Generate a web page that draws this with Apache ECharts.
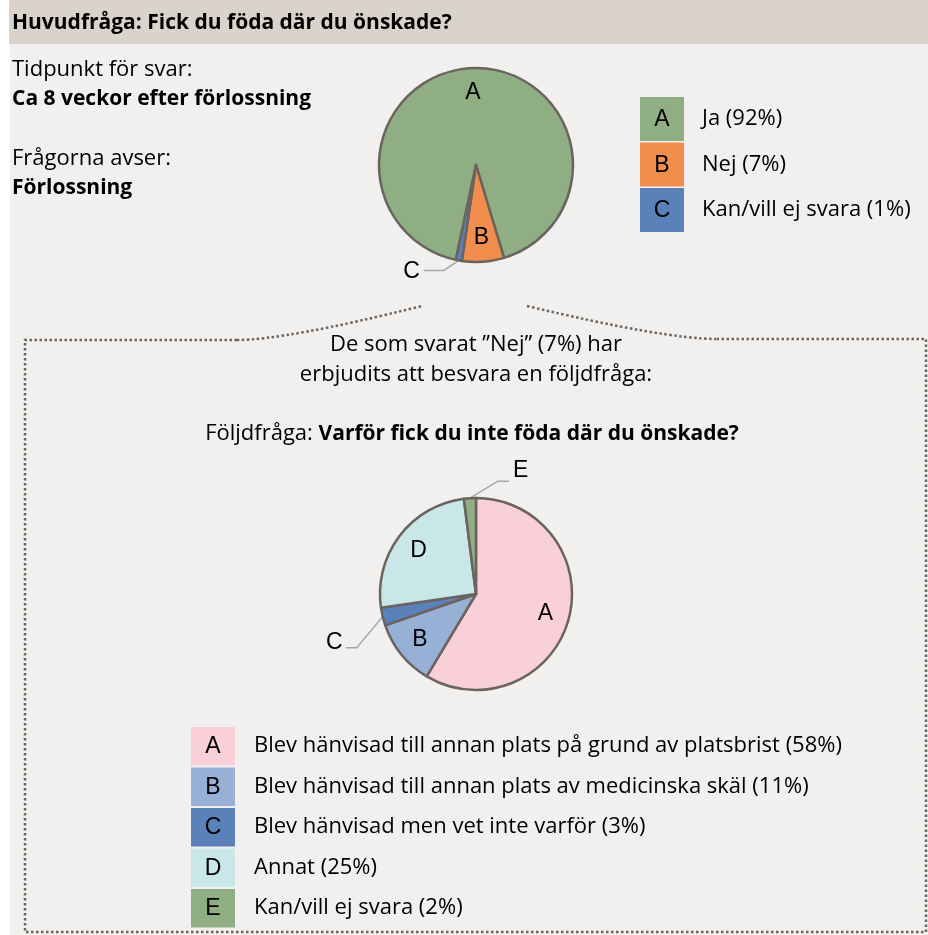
<!DOCTYPE html>
<html><head><meta charset="utf-8">
<script src="https://cdn.jsdelivr.net/npm/echarts@6/dist/echarts.min.js"></script>
<style>html,body{margin:0;padding:0;background:#fff}#c{width:928px;height:935px}</style>
</head><body><div id="c"></div>
<script>
// ---- data ----
const mainCats = ['A', 'B', 'C'];
const mainNames = ['Ja (92%)', 'Nej (7%)', 'Kan/vill ej svara (1%)'];
const mainValues = [92, 7, 1];
const mainColors = ['#8fae84', '#f28e4d', '#5b81bb'];
const mainInside = [true, true, false];

const followCats = ['A', 'B', 'C', 'D', 'E'];
const followNames = [
  'Blev hänvisad till annan plats på grund av platsbrist (58%)',
  'Blev hänvisad till annan plats av medicinska skäl (11%)',
  'Blev hänvisad men vet inte varför (3%)',
  'Annat (25%)',
  'Kan/vill ej svara (2%)'
];
const followValues = [58, 11, 3, 25, 2];
const followColors = ['#f9d0d8', '#97b0d6', '#5b81bb', '#c9e6e8', '#8fae84'];
const followInside = [true, true, false, true, false];

const titleText = 'Huvudfråga: Fick du föda där du önskade?';
const infoLines = [
  ['Tidpunkt för svar:', false], ['Ca 8 veckor efter förlossning', true],
  ['Frågorna avser:', false], ['Förlossning', true]
];
const bridgeLines = ['De som svarat ”Nej” (7%) har', 'erbjudits att besvara en följdfråga:'];
const followLead = 'Följdfråga: ';
const followQuestion = 'Varför fick du inte föda där du önskade?';

// ---- styles ----
const TXT = '"Open Sans", "Noto Sans", sans-serif';
const FS = 22;   // normal text
const FSB = 21;  // bold text
const LETTER = '"Liberation Sans", Arial, sans-serif';
const LFS = 23;
const BORDER = '#6b635e';
const LEADER = '#a6a6a6';
const DOT = '#6b645f';

const chart = echarts.init(document.getElementById('c'), null, {renderer: 'canvas'});

// outside label leader adjustments (offsets relative to the slice edge point computed by ECharts)
const mainOut = {2: {d1: [-15, 10], d2: -20, lx: -4, ly: 1, align: 'right'}};
const followOut = {
  2: {d1: [-26, 31], d2: -11, lx: -3, ly: -5, align: 'right'},
  4: {d1: [28, -17], d2: 11, lx: 4, ly: -11, align: 'left'}
};
function makeLayout(cfgMap) {
  return function (p) {
    const cfg = cfgMap[p.dataIndex];
    if (!cfg || !p.labelLinePoints) return {};
    const p0 = p.labelLinePoints[0];
    const p1 = [p0[0] + cfg.d1[0], p0[1] + cfg.d1[1]];
    const p2 = [p1[0] + cfg.d2, p1[1]];
    return {
      labelLinePoints: [p0, p1, p2],
      x: p2[0] + cfg.lx, y: p2[1] + cfg.ly,
      align: cfg.align, verticalAlign: 'middle'
    };
  };
}

function pieSeries(cats, values, colors, inside, center, r, startAngle, layoutMap) {
  return [{
    type: 'pie', center: center, radius: r, startAngle: startAngle, clockwise: true,
    silent: true, avoidLabelOverlap: false, minShowLabelAngle: 0,
    itemStyle: {borderColor: BORDER, borderWidth: 2.5},
    label: {show: true, position: 'outside', formatter: '{b}', color: '#000', fontFamily: LETTER, fontSize: LFS},
    labelLine: {show: true, length: 10, length2: 12, lineStyle: {color: LEADER, width: 1.5}},
    emphasis: {disabled: true},
    labelLayout: makeLayout(layoutMap),
    data: cats.map((c, i) => ({
      name: c, value: values[i], itemStyle: {color: colors[i]},
      label: {show: !inside[i]}, labelLine: {show: !inside[i]}
    }))
  }, {
    type: 'pie', center: center, radius: [0, r * 1.44], startAngle: startAngle, clockwise: true,
    silent: true, avoidLabelOverlap: false, minShowLabelAngle: 0, z: 5,
    itemStyle: {color: 'rgba(0,0,0,0)', borderWidth: 0},
    label: {show: true, position: 'inside', formatter: '{b}', color: '#000', fontFamily: LETTER, fontSize: LFS},
    labelLine: {show: false},
    emphasis: {disabled: true},
    data: cats.map((c, i) => ({name: c, value: values[i], label: {show: inside[i]}}))
  }];
}

const g = [];
// background panel and header
g.push({type: 'rect', shape: {x: 10, y: 0, width: 918, height: 935}, style: {fill: '#f1f0ee'}, z: -10});
g.push({type: 'rect', shape: {x: 9, y: 0, width: 919, height: 44}, style: {fill: '#d9d3cc'}, z: -9});
g.push({type: 'text', x: 12, y: 23, style: {text: titleText, font: 'bold ' + FSB + 'px ' + TXT, fill: '#000', verticalAlign: 'middle'}});
const infoY = [70, 99, 159, 188];
infoLines.forEach((l, i) => g.push({type: 'text', x: 12, y: infoY[i],
  style: {text: l[0], font: l[1] ? ('bold ' + FSB + 'px ' + TXT) : (FS + 'px ' + TXT), fill: '#000', verticalAlign: 'middle'}}));

// top legend
mainCats.forEach((c, i) => {
  const y = 97 + i * 45.5;
  g.push({type: 'rect', shape: {x: 640, y: y, width: 44, height: 44}, style: {fill: mainColors[i]}});
  g.push({type: 'text', x: 662, y: y + 23, style: {text: c, font: LFS + 'px ' + LETTER, fill: '#000', align: 'center', verticalAlign: 'middle'}});
  g.push({type: 'text', x: 702, y: y + 22, style: {text: mainNames[i], font: FS + 'px ' + TXT, fill: '#000', verticalAlign: 'middle'}});
});

// dotted connector box
const dotStyle = {stroke: DOT, lineWidth: 2.5, lineDash: [2.5, 2.5], fill: null};
g.push({type: 'polyline', shape: {points: [[237, 340], [25, 340], [25, 932], [926, 932], [926, 339], [717, 339]]}, style: dotStyle});
g.push({type: 'bezierCurve', shape: {x1: 237, y1: 340, cpx1: 285, cpy1: 340, x2: 422, y2: 306}, style: dotStyle});
g.push({type: 'bezierCurve', shape: {x1: 527, y1: 306, cpx1: 665, cpy1: 339, x2: 717, y2: 339}, style: dotStyle});

bridgeLines.forEach((t, i) => g.push({type: 'text', x: 476, y: 345 + i * 30,
  style: {text: t, font: FS + 'px ' + TXT, fill: '#000', align: 'center', verticalAlign: 'middle'}}));
g.push({type: 'text', x: 472, y: 434, style: {
  text: '{n|' + followLead + '}{b|' + followQuestion + '}', align: 'center', verticalAlign: 'middle',
  rich: {n: {font: FS + 'px ' + TXT, fill: '#000'}, b: {font: 'bold ' + FSB + 'px ' + TXT, fill: '#000'}}
}});

// bottom legend
followCats.forEach((c, i) => {
  const y = 727 + i * 40.5;
  g.push({type: 'rect', shape: {x: 191, y: y, width: 44, height: 38.5}, style: {fill: followColors[i]}});
  g.push({type: 'text', x: 213, y: y + 20, style: {text: c, font: LFS + 'px ' + LETTER, fill: '#000', align: 'center', verticalAlign: 'middle'}});
  g.push({type: 'text', x: 254, y: y + 19, style: {text: followNames[i], font: FS + 'px ' + TXT, fill: '#000', verticalAlign: 'middle'}});
});

chart.setOption({
  animation: false,
  backgroundColor: 'transparent',
  graphic: {elements: g},
  series: [
    ...pieSeries(mainCats, mainValues, mainColors, mainInside, [476, 165], 97, 258, mainOut),
    ...pieSeries(followCats, followValues, followColors, followInside, [476, 594], 96, 90, followOut)
  ]
});
</script></body></html>
